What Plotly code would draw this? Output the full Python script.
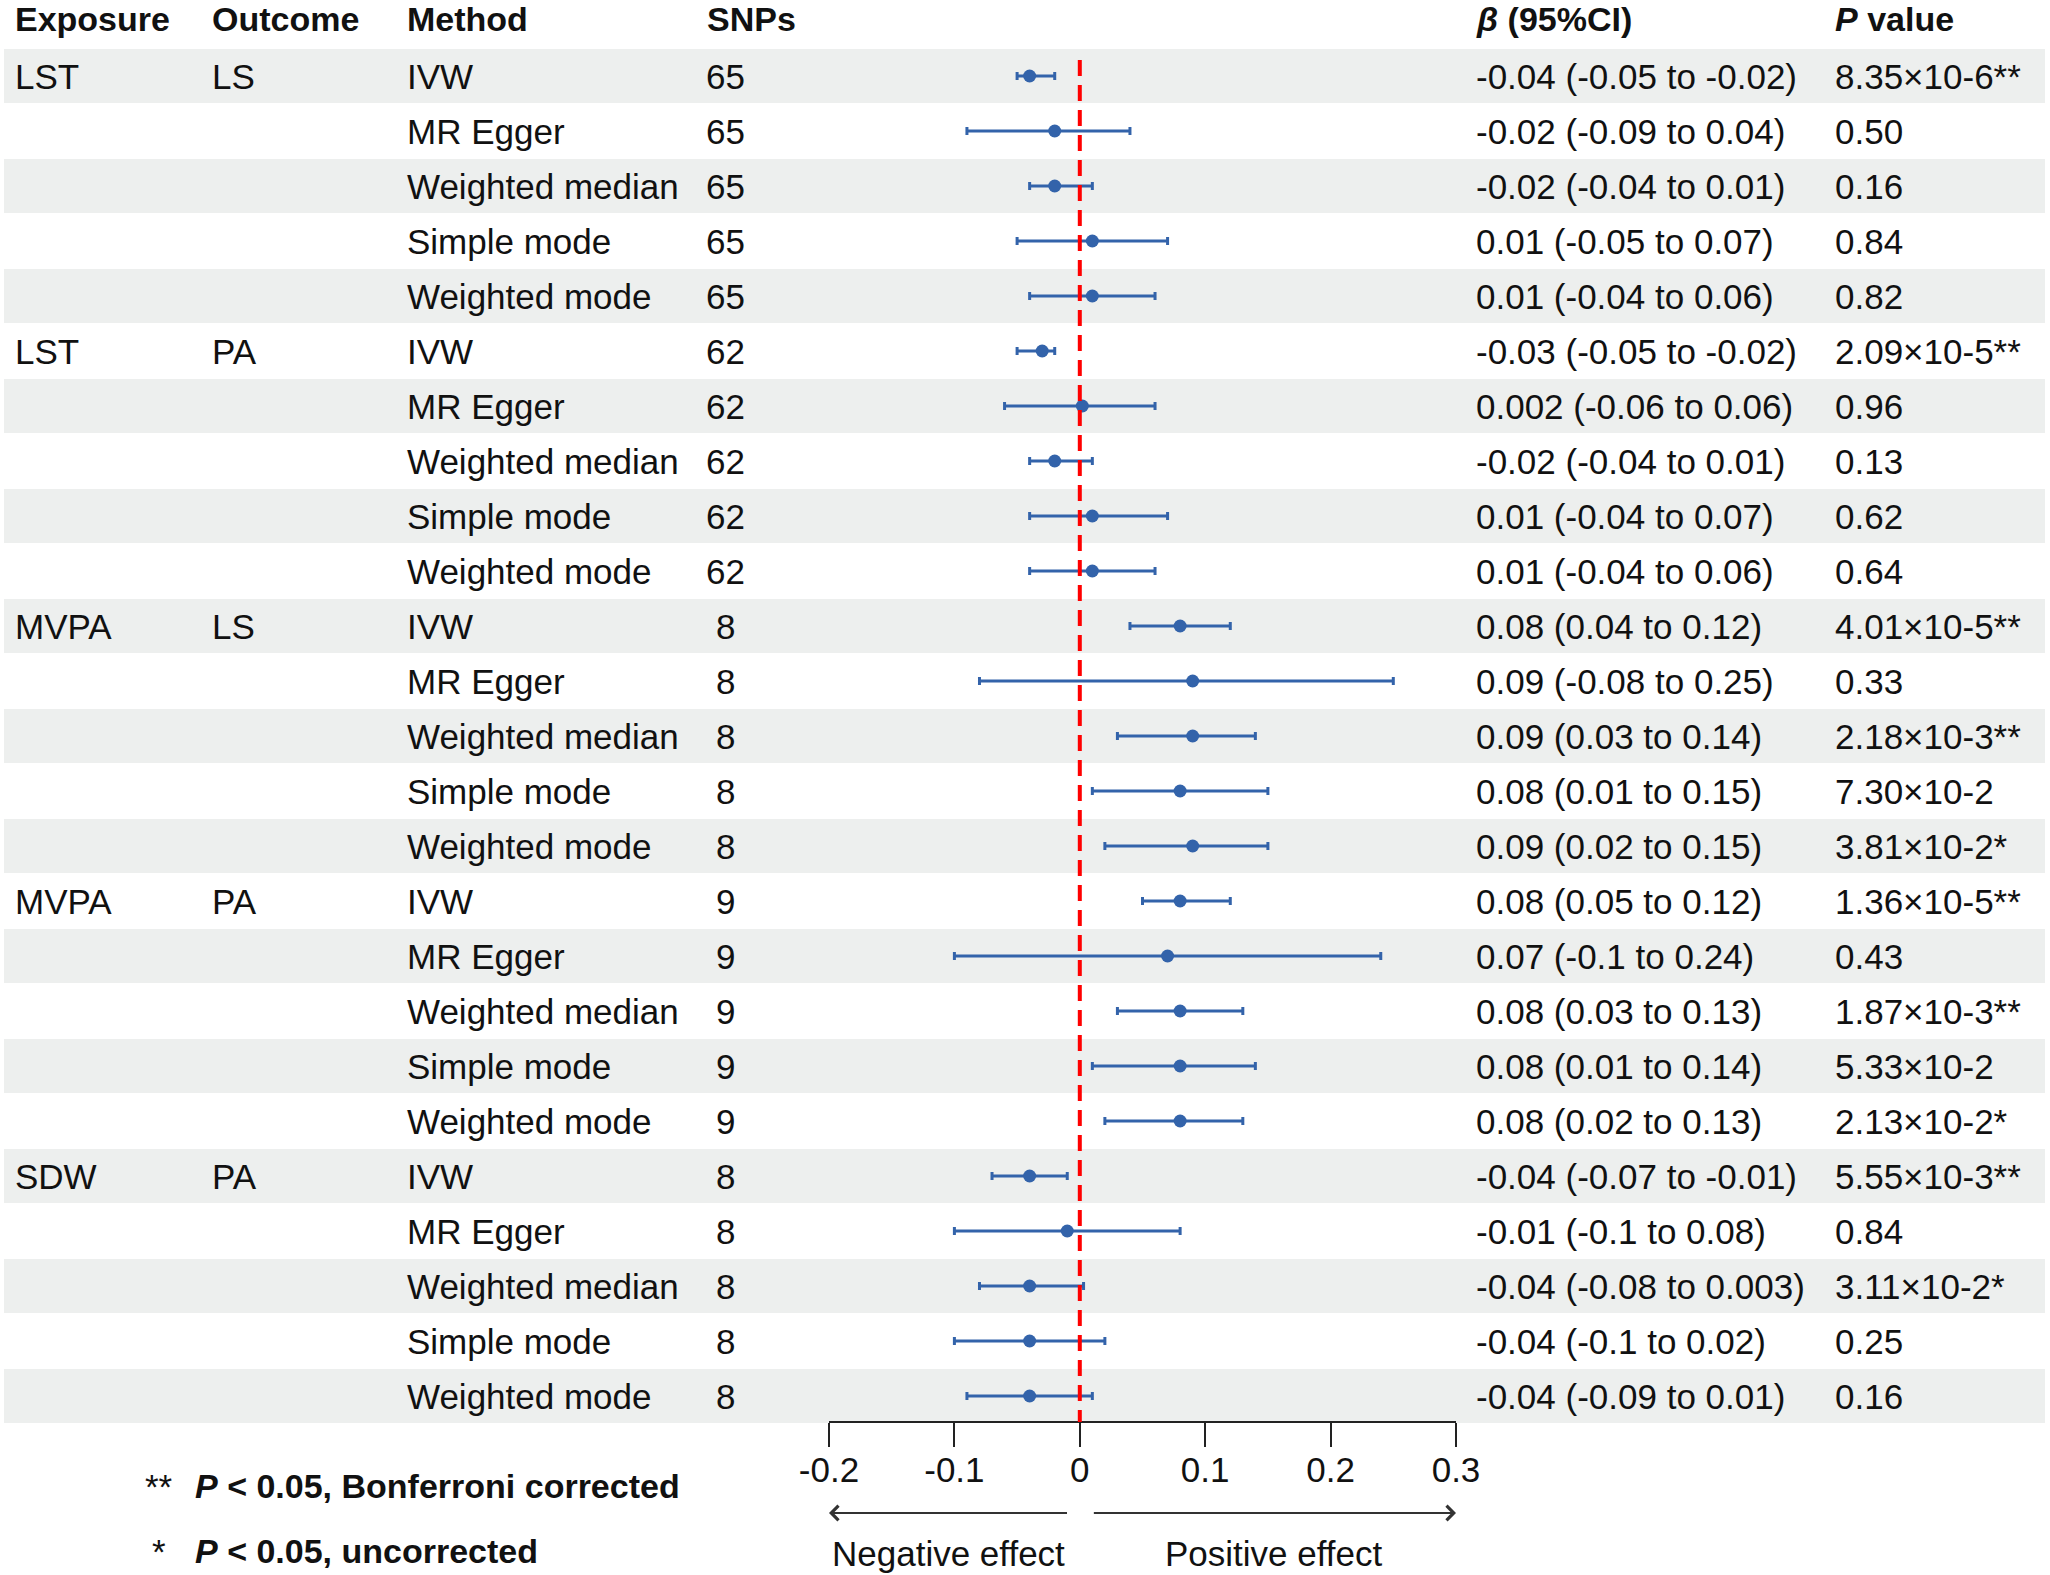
import plotly.graph_objects as go

W, H = 2050, 1575
ROW0, PITCH = 76, 55  # pixel centre of the first row, row pitch

exposure = ["LST", "", "", "", "", "LST", "", "", "", "", "MVPA", "", "", "", "",
            "MVPA", "", "", "", "", "SDW", "", "", "", ""]
outcome = ["LS", "", "", "", "", "PA", "", "", "", "", "LS", "", "", "", "",
           "PA", "", "", "", "", "PA", "", "", "", ""]
methods = ["IVW", "MR Egger", "Weighted median", "Simple mode", "Weighted mode"] * 5
snps = [65] * 5 + [62] * 5 + [8] * 5 + [9] * 5 + [8] * 5

beta = [-0.04, -0.02, -0.02, 0.01, 0.01,
        -0.03, 0.002, -0.02, 0.01, 0.01,
        0.08, 0.09, 0.09, 0.08, 0.09,
        0.08, 0.07, 0.08, 0.08, 0.08,
        -0.04, -0.01, -0.04, -0.04, -0.04]
ci_low = [-0.05, -0.09, -0.04, -0.05, -0.04,
          -0.05, -0.06, -0.04, -0.04, -0.04,
          0.04, -0.08, 0.03, 0.01, 0.02,
          0.05, -0.1, 0.03, 0.01, 0.02,
          -0.07, -0.1, -0.08, -0.1, -0.09]
ci_high = [-0.02, 0.04, 0.01, 0.07, 0.06,
           -0.02, 0.06, 0.01, 0.07, 0.06,
           0.12, 0.25, 0.14, 0.15, 0.15,
           0.12, 0.24, 0.13, 0.14, 0.13,
           -0.01, 0.08, 0.003, 0.02, 0.01]
p_text = ["8.35×10-6", "0.50", "0.16", "0.84", "0.82",
          "2.09×10-5", "0.96", "0.13", "0.62", "0.64",
          "4.01×10-5", "0.33", "2.18×10-3", "7.30×10-2", "3.81×10-2",
          "1.36×10-5", "0.43", "1.87×10-3", "5.33×10-2", "2.13×10-2",
          "5.55×10-3", "0.84", "3.11×10-2", "0.25", "0.16"]
stars = ["**", "", "", "", "",
         "**", "", "", "", "",
         "**", "", "**", "", "*",
         "**", "", "**", "", "*",
         "**", "", "*", "", ""]

x_ticks = [-0.2, -0.1, 0, 0.1, 0.2, 0.3]
x_tick_text = ["-0.2", "-0.1", "0", "0.1", "0.2", "0.3"]

FONT = "Liberation Sans, Arial, sans-serif"
FS = 35
BLUE = "#3363AA"
BAND = "#EDEFEE"

n = len(methods)
rows = list(range(n))


def px(x):
    return x / W


def row_of(pix):
    return (pix - ROW0) / PITCH


fig = go.Figure()

# alternating shaded rows
shapes = []
for r in rows:
    if r % 2 == 0:
        shapes.append(dict(type="rect", xref="paper", yref="y", x0=px(4), x1=px(2045),
                           y0=r - 0.49, y1=r + 0.49, fillcolor=BAND, line=dict(width=0),
                           layer="below"))
# null line
shapes.append(dict(type="line", xref="x", yref="y", x0=0, x1=0,
                   y0=row_of(60), y1=row_of(1422),
                   line=dict(color="#FF0000", width=4, dash="16px,9px")))

fig.add_trace(go.Scatter(
    x=beta, y=rows, mode="markers",
    marker=dict(size=13, color=BLUE),
    error_x=dict(type="data", symmetric=False,
                 array=[h - b for h, b in zip(ci_high, beta)],
                 arrayminus=[b - l for b, l in zip(beta, ci_low)],
                 color=BLUE, thickness=3, width=4),
    showlegend=False, hoverinfo="skip", cliponaxis=False,
))

ann = []


def text(x, y, s, anchor="left", bold=False, size=FS):
    if bold:
        s = "<b>" + s + "</b>"
        size = size - 1
    ann.append(dict(x=px(x), y=y, xref="paper", yref="y", text=s, showarrow=False,
                    xanchor=anchor, yanchor="middle", font=dict(size=size, color="#111111")))


hy = row_of(19)
text(13, hy, "Exposure", bold=True)
text(210, hy, "Outcome", bold=True)
text(405, hy, "Method", bold=True)
text(705, hy, "SNPs", bold=True)
text(1474, hy, "<i>β</i> (95%CI)", bold=True)
text(1833, hy, "<i>P</i> value", bold=True)

for r in rows:
    text(13, r, exposure[r])
    text(210, r, outcome[r])
    text(405, r, methods[r])
    text(725, r, str(snps[r]), anchor="center")
    text(1474, r, f"{beta[r]:g} ({ci_low[r]:g} to {ci_high[r]:g})")
    text(1833, r, p_text[r] + stars[r])

# footnotes
text(159, row_of(1486), "**", anchor="center")
text(193, row_of(1486), "<i>P</i> < 0.05, Bonferroni corrected", bold=True)
text(159, row_of(1551), "*", anchor="center")
text(193, row_of(1551), "<i>P</i> < 0.05, uncorrected", bold=True)

# direction arrows
ay = row_of(1513)
ann.append(dict(x=x_ticks[0], y=ay, ax=-0.009, ay=ay, xref="x", yref="y", axref="x", ayref="y",
                text="", showarrow=True, arrowhead=4, arrowsize=1.4, arrowwidth=2,
                arrowcolor="#333333"))
ann.append(dict(x=x_ticks[-1], y=ay, ax=0.01, ay=ay, xref="x", yref="y", axref="x", ayref="y",
                text="", showarrow=True, arrowhead=4, arrowsize=1.4, arrowwidth=2,
                arrowcolor="#333333"))
ann.append(dict(x=(x_ticks[0] - 0.009) / 2, y=row_of(1553), xref="x", yref="y",
                text="Negative effect", showarrow=False, xanchor="center",
                font=dict(size=FS, color="#111111")))
ann.append(dict(x=(x_ticks[-1] + 0.01) / 2, y=row_of(1553), xref="x", yref="y",
                text="Positive effect", showarrow=False, xanchor="center",
                font=dict(size=FS, color="#111111")))

fig.update_layout(
    width=W, height=H,
    margin=dict(l=0, r=0, t=0, b=0, autoexpand=False),
    paper_bgcolor="white", plot_bgcolor="rgba(0,0,0,0)",
    font=dict(family=FONT, size=FS, color="#111111"),
    shapes=shapes, annotations=ann,
    xaxis=dict(range=[-0.2, 0.3], domain=[px(829), px(1456)],
               anchor="free", position=1 - 1422 / H, automargin=False,
               showgrid=False, zeroline=False, showline=True, linecolor="#222222", linewidth=2,
               ticks="outside", ticklen=24, tickwidth=2, tickcolor="#222222",
               tickvals=x_ticks, ticktext=x_tick_text, tickfont=dict(size=FS),
               ticklabelstandoff=-7),
    yaxis=dict(range=[row_of(H), row_of(0)], domain=[0, 1], visible=False, automargin=False),
)

fig.write_html("out.html", config={"displayModeBar": False},
               post_script="document.body.style.margin='0';")
